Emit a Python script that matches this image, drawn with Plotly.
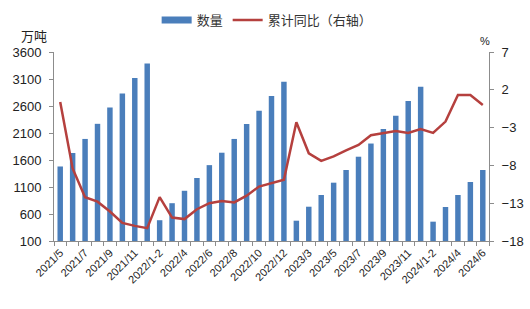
import plotly.graph_objects as go

categories = ["2021/5", "2021/6", "2021/7", "2021/8", "2021/9", "2021/10", "2021/11", "2021/12",
              "2022/1-2", "2022/3", "2022/4", "2022/5", "2022/6", "2022/7", "2022/8", "2022/9",
              "2022/10", "2022/11", "2022/12",
              "2023/1-2", "2023/3", "2023/4", "2023/5", "2023/6", "2023/7", "2023/8", "2023/9",
              "2023/10", "2023/11", "2023/12",
              "2024/1-2", "2024/3", "2024/4", "2024/5", "2024/6"]

quantity = [1480, 1730, 1990, 2270, 2570, 2830, 3120, 3385,
            485, 800, 1030, 1267, 1505, 1735, 1990, 2267, 2513, 2785, 3050,
            476, 735, 952, 1180, 1415, 1661, 1905, 2174, 2421, 2693, 2958,
            458, 730, 952, 1193, 1415]

yoy = [0.4, -8.4, -12.2, -12.8, -14.1, -15.6, -16.0, -16.3,
       -12.2, -14.9, -15.1, -13.8, -13.0, -12.7, -12.9, -12.0, -10.8, -10.4, -9.9,
       -2.3, -6.4, -7.4, -6.8, -6.0, -5.3, -4.0, -3.75, -3.45, -3.7, -3.2,
       -3.7, -2.2, 1.3, 1.3, 0.0]

shown_ticks = ["2021/5", "2021/7", "2021/9", "2021/11", "2022/1-2", "2022/4", "2022/6", "2022/8",
               "2022/10", "2022/12", "2023/3", "2023/5", "2023/7", "2023/9", "2023/11",
               "2024/1-2", "2024/4", "2024/6"]
tick_labels = [c if c in shown_ticks else "" for c in categories]

bar_color = "#4A7EBB"
line_color = "#B5403E"
axis_color = "#8C8C8C"
font_num = "Liberation Sans, Arial, sans-serif"
font_cjk = "Noto Sans CJK SC, sans-serif"

fig = go.Figure()
fig.add_trace(go.Bar(x=categories, y=quantity, name="数量", marker_color=bar_color,
                     marker_line_width=0, yaxis="y", showlegend=False))
# legend entry for the bars (wide rectangle like the original)
fig.add_trace(go.Scatter(x=[None], y=[None], name="数量", mode="lines",
                         line=dict(color=bar_color, width=7), yaxis="y"))
fig.add_trace(go.Scatter(x=categories, y=yoy, name="累计同比（右轴）", mode="lines",
                         line=dict(color=line_color, width=2.5), yaxis="y2"))

fig.update_layout(
    width=530, height=309,
    margin=dict(l=54, r=41, t=52, b=68, autoexpand=False),
    paper_bgcolor="white", plot_bgcolor="white",
    bargap=0.56,
    showlegend=True,
    legend=dict(orientation="h", x=0.49, xanchor="center", yref="container", y=0.935,
                yanchor="middle",
                font=dict(family=font_cjk, size=13, color="#333333"),
                itemwidth=30, bgcolor="rgba(0,0,0,0)"),
    xaxis=dict(type="category", tickmode="array", tickvals=categories, ticktext=tick_labels,
               tickangle=-45, tickson="boundaries", ticks="outside", ticklen=4,
               tickcolor=axis_color, showline=True, linecolor=axis_color, linewidth=1,
               showgrid=False, tickfont=dict(family=font_num, size=11, color="#222222")),
    yaxis=dict(range=[100, 3600], dtick=500, tick0=100, ticks="outside", ticklen=4,
               tickcolor=axis_color, showline=True, linecolor=axis_color, linewidth=1,
               showgrid=False, zeroline=False, ticklabelstandoff=5,
               tickfont=dict(family=font_num, size=13, color="#222222")),
    yaxis2=dict(range=[-18, 7], dtick=5, tick0=-18, overlaying="y", side="right",
                ticks="outside", ticklen=4, tickcolor=axis_color, showline=True,
                linecolor=axis_color, linewidth=1, showgrid=False, zeroline=False,
                ticklabelstandoff=5,
                tickfont=dict(family=font_num, size=13, color="#222222")),
    annotations=[
        dict(text="万吨", xref="paper", yref="paper", x=-0.045, y=1.085, xanchor="center",
             yanchor="middle", showarrow=False, font=dict(family=font_cjk, size=13, color="#222222")),
        dict(text="%", xref="paper", yref="paper", x=0.99, y=1.06, xanchor="center",
             yanchor="middle", showarrow=False, font=dict(family=font_num, size=11, color="#222222")),
    ],
)

fig.write_html("out.html")
